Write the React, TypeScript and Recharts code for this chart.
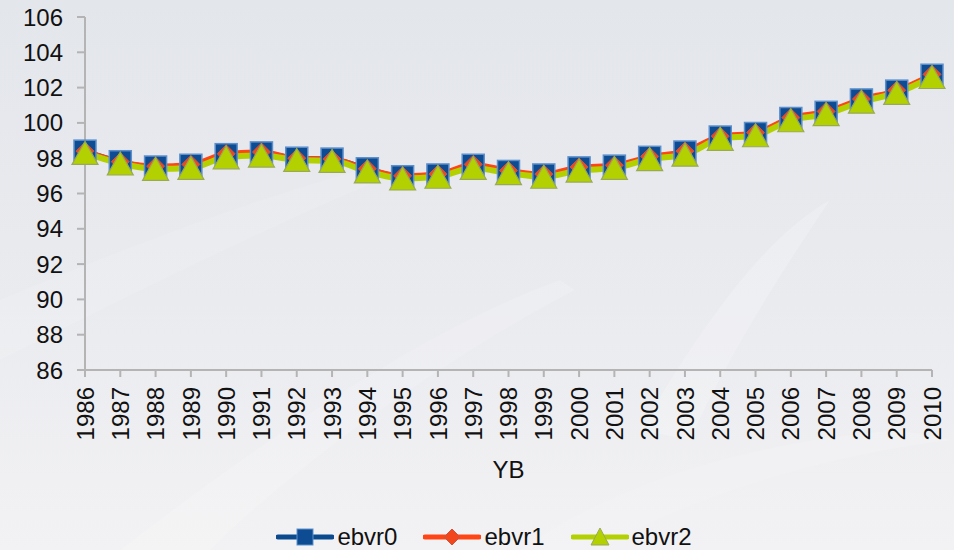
import React from "react";
import { Label, Legend, Line, LineChart, XAxis, YAxis } from "recharts";

const years = [
  "1986", "1987", "1988", "1989", "1990", "1991", "1992", "1993", "1994", "1995",
  "1996", "1997", "1998", "1999", "2000", "2001", "2002", "2003", "2004", "2005",
  "2006", "2007", "2008", "2009", "2010",
];

const ebvr0 = [
  98.4, 97.8, 97.5, 97.6, 98.2, 98.3, 98.0, 97.95, 97.4, 96.95,
  97.05, 97.6, 97.25, 97.05, 97.45, 97.55, 98.05, 98.35, 99.2, 99.4,
  100.25, 100.6, 101.3, 101.8, 102.7,
];

const ebvr1 = [
  98.4, 97.8, 97.55, 97.65, 98.25, 98.35, 98.0, 97.95, 97.4, 97.0,
  97.1, 97.65, 97.3, 97.1, 97.5, 97.6, 98.1, 98.4, 99.25, 99.45,
  100.3, 100.65, 101.35, 101.85, 102.75,
];

const ebvr2 = [
  98.3, 97.7, 97.4, 97.45, 98.05, 98.15, 97.9, 97.85, 97.25, 96.85,
  96.95, 97.45, 97.15, 96.95, 97.3, 97.45, 97.95, 98.2, 99.1, 99.3,
  100.15, 100.5, 101.2, 101.7, 102.6,
];

const yTicks = [86, 88, 90, 92, 94, 96, 98, 100, 102, 104, 106];

const data = years.map((yb, i) => ({
  yb,
  ebvr0: ebvr0[i],
  ebvr1: ebvr1[i],
  ebvr2: ebvr2[i],
}));

const FONT = "'Liberation Sans', Arial, sans-serif";
const BLUE = "#0b4a8e";
const RED = "#ff4516";
const GREEN = "#b3d100";

const SquareDot = (props: any) => {
  const { cx, cy } = props;
  if (cx == null || cy == null) return null;
  const s = 11;
  return (
    <rect x={cx - s} y={cy - s} width={s * 2} height={s * 2}
      fill="#0d4c92" stroke="#5d8fcc" strokeWidth={1.5} />
  );
};

const DiamondDot = (props: any) => {
  const { cx, cy } = props;
  if (cx == null || cy == null) return null;
  const s = 9;
  return (
    <path d={`M${cx},${cy - s}L${cx + s},${cy}L${cx},${cy + s}L${cx - s},${cy}Z`}
      fill="#f2461c" stroke="#c8553e" strokeWidth={1} />
  );
};

const TriangleDot = (props: any) => {
  const { cx, cy } = props;
  if (cx == null || cy == null) return null;
  const w = 13;
  const h = 11.5;
  return (
    <path d={`M${cx},${cy - h}L${cx + w},${cy + h}L${cx - w},${cy + h}Z`}
      fill="#b3d000" stroke="#98aa55" strokeWidth={1.2} />
  );
};

const YearTick = (props: any) => {
  const { x, y, payload } = props;
  const ty = y + 8;
  return (
    <text x={x} y={ty} transform={`rotate(-90, ${x}, ${ty})`}
      textAnchor="end" dy="0.36em" fontSize={24} fontFamily={FONT} fill="#111">
      {payload.value}
    </text>
  );
};

const legendItems = [
  { name: "ebvr0", color: BLUE, marker: "square" },
  { name: "ebvr1", color: RED, marker: "diamond" },
  { name: "ebvr2", color: GREEN, marker: "triangle" },
];

const LegendContent = () => (
  <div style={{ display: "flex", justifyContent: "center", paddingTop: 14, paddingLeft: 62, fontFamily: FONT, fontSize: 24, lineHeight: "26px", color: "#111" }}>
    {legendItems.map((it) => (
      <div key={it.name} style={{ display: "flex", alignItems: "center", marginRight: 26 }}>
        <svg width={58} height={26} style={{ marginRight: 3 }}>
          <line x1={2} y1={13} x2={56} y2={13} stroke={it.color} strokeWidth={5} strokeLinecap="round" />
          {it.marker === "square" && <rect x={21} y={5} width={16} height={16} fill="#0d4c92" stroke="#5d8fcc" />}
          {it.marker === "diamond" && <path d="M29,5L37,13L29,21L21,13Z" fill="#f2461c" stroke="#c8553e" />}
          {it.marker === "triangle" && <path d="M29,4L38,21L20,21Z" fill="#b3d000" stroke="#98aa55" />}
        </svg>
        <span>{it.name}</span>
      </div>
    ))}
  </div>
);

export default function App() {
  return (
    <div style={{ position: "absolute", left: 0, top: 0, width: 954, height: 550, overflow: "hidden",
      background: "linear-gradient(180deg, #e3e6eb 0%, #eaebef 55%, #f2f2f4 100%)" }}>
      <svg width={954} height={550} style={{ position: "absolute", left: 0, top: 0 }}>
        <path d="M0,300 C120,250 250,200 360,170 L380,180 C260,230 120,300 0,360 Z" fill="#ffffff" opacity={0.12} />
        <path d="M120,550 C250,450 420,330 560,280 L575,290 C440,360 290,470 210,550 Z" fill="#ffffff" opacity={0.15} />
        <path d="M640,430 C700,330 760,240 830,200 C790,260 730,350 690,440 Z" fill="#ffffff" opacity={0.2} />
        <path d="M520,550 C620,480 760,440 900,430 L954,440 C820,455 680,500 600,550 Z" fill="#ffffff" opacity={0.12} />
      </svg>
      <LineChart width={954} height={550} data={data}
        margin={{ top: 17, right: 22, left: 0, bottom: 0 }}
        style={{ position: "absolute", left: 0, top: 0 }}>
        <XAxis dataKey="yb" interval={0} height={140} tick={<YearTick />}
          axisLine={{ stroke: "#b4b4b4", strokeWidth: 2 }} tickLine={{ stroke: "#b4b4b4", strokeWidth: 2 }}
          tickSize={7} padding={{ left: 0, right: 0 }}>
          <Label value="YB" position="insideBottom" offset={32}
            style={{ fontSize: 24, fontFamily: FONT, fill: "#111" }} />
        </XAxis>
        <YAxis domain={[86, 106]} ticks={yTicks} width={85} interval={0}
          axisLine={{ stroke: "#b4b4b4", strokeWidth: 2 }} tickLine={{ stroke: "#b4b4b4", strokeWidth: 2 }}
          tickSize={8} tickMargin={14}
          tick={{ fontSize: 24, fontFamily: FONT, fill: "#111" }} />
        <Legend verticalAlign="bottom" height={40} content={<LegendContent />} />
        <Line type="monotone" dataKey="ebvr0" stroke={BLUE} strokeWidth={5}
          dot={<SquareDot />} activeDot={false} isAnimationActive={false} />
        <Line type="monotone" dataKey="ebvr1" stroke={RED} strokeWidth={5}
          dot={<DiamondDot />} activeDot={false} isAnimationActive={false} />
        <Line type="monotone" dataKey="ebvr2" stroke={GREEN} strokeWidth={6}
          dot={<TriangleDot />} activeDot={false} isAnimationActive={false} />
      </LineChart>
    </div>
  );
}
